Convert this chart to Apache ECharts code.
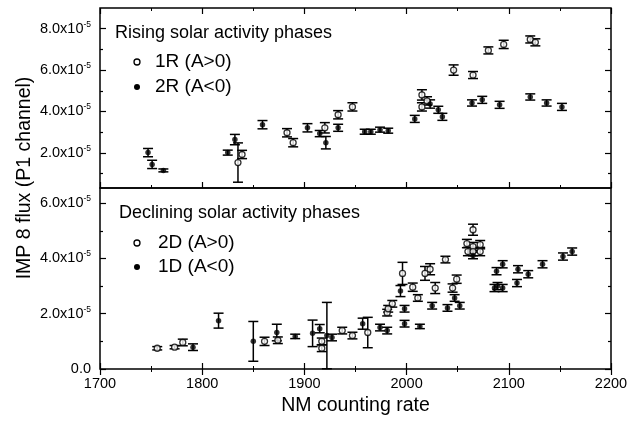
<!DOCTYPE html>
<html>
<head>
<meta charset="UTF-8">
<script src="https://cdn.jsdelivr.net/npm/echarts@6/dist/echarts.min.js"></script>
<title>IMP 8 flux vs NM counting rate</title>
</head>
<body style="margin:0;background:#fff">
<div id="main" style="width:633px;height:431px"></div>
<script>
// [NM rate, flux (x1e-5), error]
var rise1R = [[1835,1.53,0.95],[1839,1.92,0.2],[1883,2.97,0.2],[1889,2.49,0.2],[1920,3.21,0.25],
  [1933,3.84,0.2],[1947,4.22,0.2],[2015,4.80,0.25],[2020,4.51,0.2],[2015,4.22,0.2],
  [2046,6.00,0.25],[2065,5.76,0.17],[2080,6.95,0.17],[2095,7.24,0.2],[2121,7.48,0.17],[2126,7.34,0.17]];
var rise2R = [[1747,2.01,0.2],[1751,1.44,0.2],[1762,1.15,0.07],[1825,2.01,0.12],[1832,2.64,0.25],
  [1859,3.36,0.2],[1903,3.21,0.2],[1915,2.93,0.15],[1921,2.49,0.3],[1933,3.21,0.17],
  [1959,3.02,0.12],[1965,3.02,0.12],[1974,3.12,0.12],[1982,3.07,0.12],[2008,3.64,0.17],
  [2023,4.36,0.2],[2031,4.08,0.17],[2035,3.74,0.17],[2064,4.41,0.15],[2074,4.56,0.17],
  [2091,4.32,0.17],[2121,4.70,0.15],[2137,4.41,0.15],[2152,4.22,0.17]];
var decl2D = [[1756,0.75,0.06],[1773,0.79,0.06],[1781,0.96,0.12],[1861,1.00,0.15],[1874,1.04,0.12],
  [1917,1.00,0.12],[1917,0.75,0.12],[1937,1.39,0.12],[1947,1.21,0.12],[1962,1.32,0.55],
  [1981,2.04,0.12],[1986,2.36,0.12],[1982,2.18,0.12],[1996,3.46,0.4],[2006,2.96,0.15],
  [2011,2.57,0.12],[2018,3.46,0.25],[2023,3.61,0.2],[2028,2.93,0.2],[2038,3.96,0.12],
  [2045,2.93,0.15],[2049,3.25,0.15],[2065,5.04,0.2],[2059,4.54,0.15],[2065,4.43,0.15],
  [2072,4.50,0.15],[2060,4.25,0.15],[2065,4.25,0.15],[2072,4.25,0.15]];
var decl1D = [[1791,0.79,0.12],[1816,1.75,0.27],[1850,1.00,0.72],[1873,1.32,0.3],[1891,1.18,0.08],
  [1908,1.29,0.48],[1915,1.46,0.15],[1922,1.21,1.2],[1927,1.14,0.12],[1957,1.64,0.2],
  [1974,1.50,0.12],[1981,1.39,0.12],[1994,2.82,0.2],[1998,2.18,0.12],[1998,1.64,0.12],
  [2013,1.54,0.08],[2025,2.29,0.12],[2040,2.21,0.12],[2047,2.57,0.12],[2052,2.29,0.12],
  [2065,4.11,0.12],[2088,3.54,0.13],[2094,3.79,0.13],[2086,2.93,0.13],[2089,3.00,0.13],
  [2094,2.93,0.13],[2108,3.11,0.13],[2109,3.61,0.13],[2119,3.43,0.13],[2133,3.79,0.13],
  [2153,4.07,0.13],[2162,4.25,0.13]];

var topMajor = [2, 4, 6, 8], topMinor = [1, 3, 5, 7];
var botMajor = [0, 2, 4, 6], botMinor = [1, 3, 5];

var font = 'Liberation Sans, Arial, sans-serif';
var myChart = echarts.init(document.getElementById('main'));

function xAx(grid, pos, labels){
  return {
    type:'value', gridIndex:grid, position:pos, min:1700, max:2200, interval:100,
    axisLine:{show:false}, splitLine:{show:false},
    axisTick:{inside:true, length:6, lineStyle:{color:'#000', width:1.2}},
    minorTick:{show:true, splitNumber:2, length:3, lineStyle:{color:'#000', width:1}},
    axisLabel:{show:labels, color:'#000', fontFamily:font, fontSize:14.5, margin:7,
      formatter:function(v){ return String(v); }},
    name: labels ? 'NM counting rate' : '', nameLocation:'middle', nameGap:27,
    nameTextStyle:{color:'#000', fontFamily:font, fontSize:19.5}
  };
}
function yAx(grid, pos, min, max, vals, len, labels){
  return {
    type:'value', gridIndex:grid, position:pos, min:min, max:max,
    axisLine:{show:false}, splitLine:{show:false},
    axisTick:{inside:true, length:len, customValues:vals, lineStyle:{color:'#000', width:1.2}},
    axisLabel:{show:labels, customValues:vals, margin:9, color:'#000', fontFamily:font,
      formatter:function(v){ return v === 0 ? '{m|0.0}' : '{m|' + v.toFixed(1) + 'x10}{s|-5}'; },
      rich:{m:{fontSize:14.5, fontFamily:font, color:'#000'},
            s:{fontSize:8.5, fontFamily:font, color:'#000', padding:[0,0,9,0]}}}
  };
}

function errBar(params, api){
  var x = api.value(0), y = api.value(1), e = api.value(2);
  var a = api.coord([x, y + e]), b = api.coord([x, y - e]);
  var w = 5, st = {stroke:'#000', lineWidth:1.5};
  return {type:'group', children:[
    {type:'line', shape:{x1:a[0], y1:a[1], x2:b[0], y2:b[1]}, style:st},
    {type:'line', shape:{x1:a[0]-w, y1:a[1], x2:a[0]+w, y2:a[1]}, style:st},
    {type:'line', shape:{x1:b[0]-w, y1:b[1], x2:b[0]+w, y2:b[1]}, style:st}
  ]};
}
function errSeries(data, xi, yi){
  return {type:'custom', xAxisIndex:xi, yAxisIndex:yi, renderItem:errBar, data:data, z:2, silent:true};
}
function dotSeries(name, data, xi, yi, open){
  return {type:'scatter', name:name, xAxisIndex:xi, yAxisIndex:yi, data:data, z:3,
    symbol:'circle', symbolSize: open ? 6 : 5.5,
    itemStyle: open ? {color:'#fff', borderColor:'#000', borderWidth:1.3} : {color:'#000'}};
}

function legendText(x, y, t, size){
  return {type:'text', x:x, y:y, style:{text:t, fill:'#000', font:size + 'px ' + font, textVerticalAlign:'middle'}};
}
function legendDot(x, y, open){
  return {type:'circle', shape:{cx:x, cy:y, r:3},
    style: open ? {fill:'#fff', stroke:'#000', lineWidth:1.3} : {fill:'#000'}};
}

myChart.setOption({
  animation:false,
  grid:[
    {left:100, right:22, top:8, height:180, show:true, borderColor:'#000', borderWidth:1.5},
    {left:100, right:22, top:188, bottom:62, show:true, borderColor:'#000', borderWidth:1.5}
  ],
  xAxis:[xAx(0,'bottom',false), xAx(0,'top',false), xAx(1,'bottom',true), xAx(1,'top',false)],
  yAxis:[
    yAx(0,'left',0.3,9,topMajor,6,true), yAx(0,'left',0.3,9,topMinor,3,false),
    yAx(0,'right',0.3,9,topMajor,6,false), yAx(0,'right',0.3,9,topMinor,3,false),
    yAx(1,'left',0,6.55,botMajor,6,true), yAx(1,'left',0,6.55,botMinor,3,false),
    yAx(1,'right',0,6.55,botMajor,6,false), yAx(1,'right',0,6.55,botMinor,3,false)
  ],
  series:[
    errSeries(rise1R,0,0), errSeries(rise2R,0,0),
    dotSeries('1R (A>0)', rise1R, 0, 0, true), dotSeries('2R (A<0)', rise2R, 0, 0, false),
    errSeries(decl2D,2,4), errSeries(decl1D,2,4),
    dotSeries('2D (A>0)', decl2D, 2, 4, true), dotSeries('1D (A<0)', decl1D, 2, 4, false)
  ],
  graphic:[
    legendText(115, 33, 'Rising solar activity phases', 18),
    legendDot(137, 62, true), legendText(155, 62, '1R (A>0)', 19),
    legendDot(137, 87, false), legendText(155, 87, '2R (A<0)', 19),
    legendText(119, 213, 'Declining solar activity phases', 18),
    legendDot(137, 243, true), legendText(158, 243, '2D (A>0)', 19),
    legendDot(137, 267, false), legendText(158, 267, '1D (A<0)', 19),
    {type:'text', x:25, y:178, rotation:Math.PI/2,
      style:{text:'IMP 8 flux (P1 channel)', fill:'#000', font:'19.5px ' + font,
        textAlign:'center', textVerticalAlign:'middle'}}
  ]
});
</script>
</body>
</html>
